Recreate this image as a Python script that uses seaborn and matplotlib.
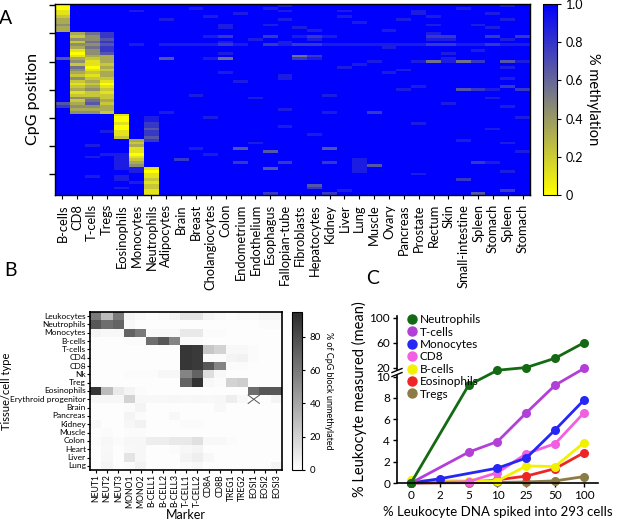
import numpy as np
import pandas as pd
import matplotlib
matplotlib.use("Agg")
import matplotlib.pyplot as plt
import matplotlib.colors as mcolors
from matplotlib.lines import Line2D
from matplotlib.patches import Rectangle
import seaborn as sns

# ---------------- Panel A data ----------------
tissues_a = ["B-cells", "CD8", "T-cells", "Tregs", "Eosinophils", "Monocytes", "Neutrophils",
             "Adipocytes", "Brain", "Breast", "Cholangiocytes", "Colon", "Endometrium",
             "Endothelium", "Esophagus", "Fallopian-tube", "Fibroblasts", "Hepatocytes",
             "Kidney", "Liver", "Lung", "Muscle", "Ovary", "Pancreas", "Prostate", "Rectum",
             "Skin", "Small-intestine", "Spleen", "Stomach", "Spleen", "Stomach"]

# one string per CpG row, one digit per column: methylation = digit / 9
cpg_rows = [
    "0999999 99999 99989 99999 99999 99989",
    "0999999 99899 99899 99999 99999 89999",
    "1999989 99999 99989 99899 99899 99999",
    "1999999 99999 89999 99999 99899 99899",
    "2999999 99989 99999 99899 99989 99999",
    "3999999 89999 99989 99999 98999 99989",
    "3999999 99999 99999 99989 99999 99999",
    "4999999 99998 99899 99999 99989 98999",
    "3999999 99998 99998 99999 99999 99899",
    "3999999 99999 99999 89999 89999 99999",
    "9357999 99999 99999 99999 99989 99999",
    "9247999 99987 99798 78999 99977 99797",
    "9446999 99999 98999 89999 99988 99989",
    "9257999 99998 99989 99999 99999 99999",
    "9446989 88887 89787 78888 88877 88788",
    "9357999 99999 99999 99999 89999 99999",
    "9147999 99999 99999 99999 99999 98999",
    "9046999 99998 99999 99999 99998 99999",
    "9133999 99999 99995 79999 99999 99999",
    "6323999 69985 99997 89999 99998 99999",
    "9413999 99999 99999 99998 99858 57968",
    "9212999 99999 99999 99989 99999 99999",
    "9503999 99999 99999 99899 99999 99989",
    "9412999 99999 99999 99999 98999 99999",
    "9323999 99998 99999 99999 89999 99999",
    "9213999 99999 99989 99999 99999 99999",
    "9422999 99999 99989 99999 99999 99989",
    "9231999 99999 89999 99999 99999 99999",
    "9120999 99999 99999 99999 99999 99999",
    "9231999 99999 99999 99999 99899 99979",
    "9342999 99999 99999 99999 98999 67897",
    "9121999 99999 99999 99999 99999 99999",
    "9222999 99899 99999 98999 99999 99999",
    "9442999 99999 98999 99999 99999 99899",
    "9253999 99999 99999 99999 99999 99999",
    "6362999 99999 99999 99999 99998 99999",
    "7443999 99999 99999 99999 99999 99989",
    "9333999 99999 99989 99999 99999 99999",
    "9442999 89999 99999 98997 99999 99999",
    "9999199 99999 99999 99999 99999 99999",
    "9999098 99989 99999 99999 99999 99998",
    "9999098 99999 99999 99999 99999 99999",
    "9999197 99999 99999 99999 99899 99999",
    "9999097 99999 99989 99999 99999 99999",
    "9999096 99999 99999 99999 99999 99899",
    "9998197 99999 99999 99999 99999 99999",
    "9999197 99999 99999 89999 99999 99999",
    "9999296 99999 99999 99999 99999 99999",
    "9999937 99999 99999 99999 99999 89999",
    "9999929 99999 98999 99999 99999 99989",
    "9989939 99999 99999 99999 99999 99999",
    "9999919 99899 69999 96999 99999 99999",
    "9999919 99999 99699 99999 99999 99998",
    "9998809 99989 99999 99999 99999 99999",
    "9989819 99999 99999 99999 99999 99999",
    "9999829 97999 99999 99989 99999 99999",
    "9999839 99999 79979 97989 99999 97899",
    "9999849 99999 99999 99986 99999 99999",
    "9999881 99999 99699 99989 99999 99999",
    "9999980 99999 99999 99989 99999 99989",
    "9999991 99999 99999 99999 99899 99999",
    "9989891 99999 99999 99999 99999 99999",
    "9999892 99999 99999 99999 99999 79999",
    "9999981 99999 99999 99999 99999 99999",
    "9999992 99999 99999 69999 99999 99999",
    "9999892 99999 99999 79999 99999 99999",
    "9999991 99999 99999 99899 99999 99979",
    "9999991 99999 99799 97999 99999 96999",
]

# ---------------- Panel B data ----------------
markers_b = ["NEUT1", "NEUT2", "NEUT3", "MONO1", "MONO2", "B-CELL1", "B-CELL2", "B-CELL3",
             "T-CELL1", "T-CELL2", "CD8A", "CD8B", "TREG1", "TREG2", "EOSI1", "EOSI2", "EOSI3"]
cell_types_b = ["Leukocytes", "Neutrophils", "Monocytes", "B-cells", "T-cells", "CD4", "CD8",
                "Nk", "Treg", "Eosinophils", "Erythroid progenitor", "Brain", "Pancreas",
                "Kidney", "Muscle", "Colon", "Heart", "Liver", "Lung"]
unmeth_b = [
    [60, 30, 60, 5, 3, 2, 3, 5, 12, 12, 5, 3, 2, 3, 3, 5, 5],
    [75, 65, 70, 3, 1, 1, 1, 1, 1, 1, 1, 1, 1, 1, 1, 2, 2],
    [5, 3, 3, 70, 60, 3, 3, 3, 10, 10, 2, 2, 1, 1, 1, 1, 1],
    [1, 1, 1, 2, 2, 65, 75, 55, 2, 2, 1, 1, 1, 1, 1, 1, 1],
    [1, 1, 1, 1, 1, 1, 1, 1, 90, 88, 25, 20, 3, 3, 2, 1, 1],
    [1, 1, 1, 1, 1, 1, 1, 1, 90, 88, 2, 2, 5, 6, 2, 1, 1],
    [1, 1, 1, 1, 1, 1, 1, 1, 90, 88, 75, 55, 2, 2, 1, 1, 1],
    [1, 1, 1, 2, 2, 2, 4, 4, 55, 70, 15, 3, 1, 1, 1, 1, 1],
    [1, 1, 1, 1, 1, 1, 1, 1, 70, 92, 3, 2, 20, 22, 1, 1, 1],
    [90, 30, 10, 5, 2, 1, 1, 1, 1, 1, 1, 1, 1, 1, 65, 75, 75],
    [4, 4, 4, 20, 3, 3, 3, 4, 3, 4, 3, 4, 8, 3, np.nan, 1, 5],
    [1, 1, 1, 2, 5, 1, 1, 1, 1, 1, 1, 3, 1, 1, 1, 1, 1],
    [1, 1, 1, 5, 2, 1, 1, 3, 1, 1, 1, 1, 1, 1, 1, 1, 1],
    [3, 1, 1, 4, 6, 1, 1, 1, 2, 2, 1, 1, 1, 1, 1, 1, 1],
    [1, 2, 1, 2, 2, 1, 1, 1, 1, 1, 1, 1, 1, 1, 1, 1, 1],
    [2, 4, 2, 4, 4, 8, 8, 10, 10, 14, 3, 3, 2, 1, 1, 1, 1],
    [1, 3, 1, 3, 4, 1, 1, 2, 4, 5, 1, 1, 1, 1, 1, 1, 1],
    [1, 4, 1, 12, 4, 1, 1, 1, 5, 8, 3, 1, 1, 1, 1, 1, 1],
    [1, 5, 1, 2, 6, 1, 1, 1, 2, 4, 1, 1, 1, 1, 1, 1, 5],
]

# ---------------- Panel C data ----------------
spike_labels = ["0", "2", "5", "10", "25", "50", "100"]
neutrophils = [0, None, 9.2, 17, 20, 35, 60]
t_cells = [0, None, 2.9, 3.9, 6.6, 9.2, 19]
monocytes = [0, 0.4, None, 1.4, 2.35, 5.0, 7.8]
cd8 = [0, None, 0.13, 0.98, 2.75, 3.7, 6.6]
b_cells = [0.25, None, 0.2, 0.2, 1.6, 1.55, 3.8]
eosinophils = [0, None, 0.06, 0.3, 0.65, 1.35, 2.85]
tregs = [0, None, 0.03, 0.05, 0.1, 0.2, 0.6]
series_names = ["Neutrophils", "T-cells", "Monocytes", "CD8", "B-cells", "Eosinophils", "Tregs"]
series_colors = ["#136a13", "#b13fd8", "#2626f5", "#f060e0", "#f2f200", "#ee2525", "#8c7b45"]

plt.rcParams["font.family"] = ["Lato", "DejaVu Sans"]

fig = plt.figure(figsize=(6.17, 5.25), dpi=100)

# ---------- A ----------
meth = np.array([[int(c) / 9 for c in r.replace(" ", "")] for r in cpg_rows])
axA = fig.add_axes([0.0891, 0.6286, 0.7699, 0.3638])
caxA = fig.add_axes([0.880, 0.6286, 0.0227, 0.3638])
cmapA = mcolors.LinearSegmentedColormap.from_list("ygb", ["#ffff00", "#808080", "#0000ff"])
sns.heatmap(meth, ax=axA, cbar_ax=caxA, cmap=cmapA, vmin=0, vmax=1,
            xticklabels=tissues_a, yticklabels=False)
axA.set_yticks(np.arange(0.5, len(cpg_rows), 10))
axA.set_yticklabels([])
axA.tick_params(axis="y", left=True, length=4, width=1)
axA.tick_params(axis="x", bottom=True, length=3, width=0.8)
axA.set_xticklabels(tissues_a, rotation=90, fontsize=9.3)
axA.set_ylabel("CpG position", fontsize=11.5, labelpad=3)
for sp in axA.spines.values():
    sp.set_visible(True)
    sp.set_color("black")
    sp.set_linewidth(1)
cbA = axA.collections[0].colorbar
cbA.set_ticks([0, 0.2, 0.4, 0.6, 0.8, 1.0])
cbA.set_ticklabels(["0", "0.2", "0.4", "0.6", "0.8", "1.0"])
cbA.ax.tick_params(labelsize=9, length=3)
cbA.outline.set_visible(True)
cbA.outline.set_edgecolor("black")
cbA.outline.set_linewidth(0.8)
cbA.set_label("% methylation", rotation=270, fontsize=10.5, labelpad=12)

# ---------- B ----------
dfB = pd.DataFrame(unmeth_b, index=cell_types_b, columns=markers_b)
axB = fig.add_axes([0.1459, 0.1048, 0.3112, 0.301])
caxB = fig.add_axes([0.4733, 0.1048, 0.0162, 0.301])
cmapB = mcolors.LinearSegmentedColormap.from_list("wg", ["#ffffff", "#2b2b2b"])
sns.heatmap(dfB, ax=axB, cbar_ax=caxB, cmap=cmapB, vmin=0, vmax=95,
            xticklabels=markers_b, yticklabels=cell_types_b)
axB.set_xticklabels(markers_b, rotation=90, fontsize=6.2)
axB.set_yticklabels(cell_types_b, rotation=0, fontsize=6.0)
axB.tick_params(axis="both", length=2, width=0.8, pad=1)
axB.set_xlabel("Marker", fontsize=9, labelpad=1)
axB.set_ylabel("Tissue/cell type", fontsize=8)
axB.yaxis.set_label_coords(-0.408, 0.5)
for sp in axB.spines.values():
    sp.set_visible(True)
    sp.set_color("black")
    sp.set_linewidth(1.2)
c = markers_b.index("EOSI1")
r = cell_types_b.index("Erythroid progenitor")
axB.plot([c, c + 1], [r, r + 1], color="#555555", lw=0.7)
axB.plot([c, c + 1], [r + 1, r], color="#555555", lw=0.7)
cbB = axB.collections[0].colorbar
cbB.set_ticks([0, 20, 40, 60, 80])
cbB.ax.tick_params(labelsize=7, length=2)
cbB.outline.set_visible(True)
cbB.outline.set_edgecolor("black")
cbB.outline.set_linewidth(0.8)
cbB.set_label("% of CpG block unmethylated", rotation=270, fontsize=6.5, labelpad=9)

# ---------- C ----------
rows = []
for name, vals in zip(series_names, [neutrophils, t_cells, monocytes, cd8, b_cells, eosinophils, tregs]):
    for i, v in enumerate(vals):
        if v is not None:
            rows.append({"pos": i, "value": v, "cell": name})
dfC = pd.DataFrame(rows)
palette = dict(zip(series_names, series_colors))

axC = fig.add_axes([0.6434, 0.08, 0.3258, 0.318])


def fwd(v):
    v = np.asarray(v, dtype=float)
    return np.where(v <= 10, v, np.where(v <= 20, 10 + (v - 10) * 0.0857,
                                         10.857 + (v - 20) * 0.0583))


def inv(u):
    u = np.asarray(u, dtype=float)
    return np.where(u <= 10, u, np.where(u <= 10.857, 10 + (u - 10) / 0.0857,
                                         20 + (u - 10.857) / 0.0583))


axC.set_yscale("function", functions=(fwd, inv))
sns.lineplot(data=dfC, x="pos", y="value", hue="cell", hue_order=series_names[::-1],
             palette=palette, marker="o", markersize=6.5, markeredgewidth=0,
             linewidth=2, legend=False, estimator=None, sort=False, ax=axC)
for ln in axC.lines:
    ln.set_clip_on(False)
axC.set_ylim(0, 103)
axC.set_xlim(-0.486, 6.486)
axC.set_xticks(range(len(spike_labels)))
axC.set_xticklabels(spike_labels)
axC.set_yticks([0, 2, 4, 6, 8, 10, 20, 60, 100])
axC.set_yticklabels(["0", "2", "4", "6", "8", "10", "20", "60", "100"])
axC.minorticks_off()
axC.tick_params(labelsize=8.5, length=3, width=1, pad=2)
for s in ["top", "right"]:
    axC.spines[s].set_visible(False)
for s in ["left", "bottom"]:
    axC.spines[s].set_linewidth(1.2)
axC.set_xlabel("% Leukocyte DNA spiked into 293 cells", fontsize=9.5, labelpad=4)
axC.set_ylabel("% Leukocyte measured (mean)", fontsize=10.5, labelpad=2)

# axis break marks
frac = float(fwd(14.5) / fwd(103))
axC.add_patch(Rectangle((-0.02, frac - 0.012), 0.04, 0.024, transform=axC.transAxes,
                        facecolor="white", edgecolor="none", clip_on=False, zorder=5))
for dy in (-0.012, 0.012):
    axC.plot([-0.025, 0.025], [frac + dy - 0.012, frac + dy + 0.012], transform=axC.transAxes,
             color="black", lw=1, clip_on=False, zorder=6)

handles = [Line2D([], [], marker="o", linestyle="none", color=col, markersize=6.5)
           for col in series_colors]
axC.legend(handles, series_names, loc="upper left", bbox_to_anchor=(0.02, 1.04),
           frameon=False, fontsize=8.5, handletextpad=0.2, labelspacing=0.12,
           borderaxespad=0, handlelength=1)

# panel letters
fig.text(6 / 617, 1 - 19 / 525, "A", fontsize=14, ha="center", va="center")
fig.text(11 / 617, 1 - 271 / 525, "B", fontsize=14, ha="center", va="center")
fig.text(373 / 617, 1 - 279 / 525, "C", fontsize=14, ha="center", va="center")

fig.savefig("out.png", dpi=100)
